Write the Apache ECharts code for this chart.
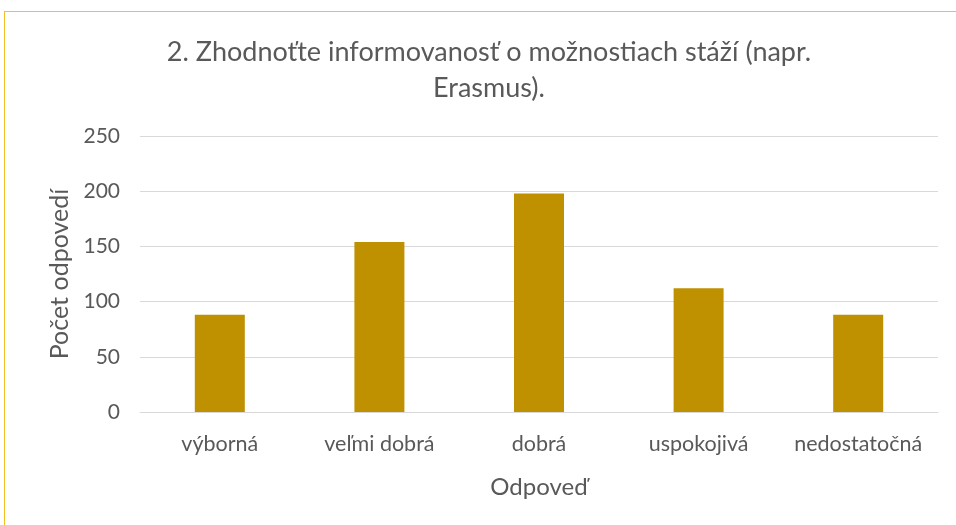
<!DOCTYPE html>
<html>
<head>
<meta charset="utf-8">
<script src="https://cdn.jsdelivr.net/npm/echarts@6/dist/echarts.min.js"></script>
<style>
  html, body { margin: 0; padding: 0; background: #fff; overflow: hidden; }
  .frame { position: absolute; left: 4px; top: 11px; width: 1000px; height: 600px;
           border-left: 1px solid #f5c026; border-top: 1px solid #f5c026; }
  .chart { position: absolute; left: 0; top: 0; width: 956px; height: 525px; }
</style>
</head>
<body>
<div class="frame"></div>
<div class="chart"></div>
<script>
var categories = ['výborná', 'veľmi dobrá', 'dobrá', 'uspokojivá', 'nedostatočná'];
var values = [88, 154, 198, 112, 88];
var yTicks = [0, 50, 100, 150, 200, 250];

var myChart = echarts.init(document.querySelector('.chart'));
var font = 'Lato';
var option = {
    title: {
        text: '2. Zhodnoťte informovanosť o možnostiach stáží (napr.\nErasmus).',
        left: 484,
        top: 29,
        textAlign: 'center',
        textStyle: { fontFamily: font, fontSize: 27, fontWeight: 'normal', color: '#595959', lineHeight: 36 }
    },
    grid: { left: 140, right: 18, top: 136, bottom: 113 },
    xAxis: {
        type: 'category',
        data: categories,
        name: 'Odpoveď',
        nameLocation: 'middle',
        nameGap: 63,
        nameTextStyle: { fontFamily: font, fontSize: 24, color: '#595959' },
        axisLine: { lineStyle: { color: '#d9d9d9', width: 1 } },
        axisTick: { show: false },
        axisLabel: { fontFamily: font, fontSize: 21.5, color: '#595959', margin: 21, interval: 0, hideOverlap: false }
    },
    yAxis: {
        type: 'value',
        min: yTicks[0],
        max: yTicks[yTicks.length - 1],
        interval: 50,
        name: 'Počet odpovedí',
        nameLocation: 'middle',
        nameGap: 66,
        nameTextStyle: { fontFamily: font, fontSize: 25, color: '#595959' },
        axisLine: { show: false },
        axisTick: { show: false },
        splitLine: { lineStyle: { color: '#d9d9d9', width: 1 } },
        axisLabel: { fontFamily: font, fontSize: 21, color: '#595959', margin: 20 }
    },
    series: [{
        type: 'bar',
        data: values,
        barWidth: 50,
        itemStyle: { color: '#bf9000' }
    }],
    animation: false
};
myChart.setOption(option);
</script>
</body>
</html>
